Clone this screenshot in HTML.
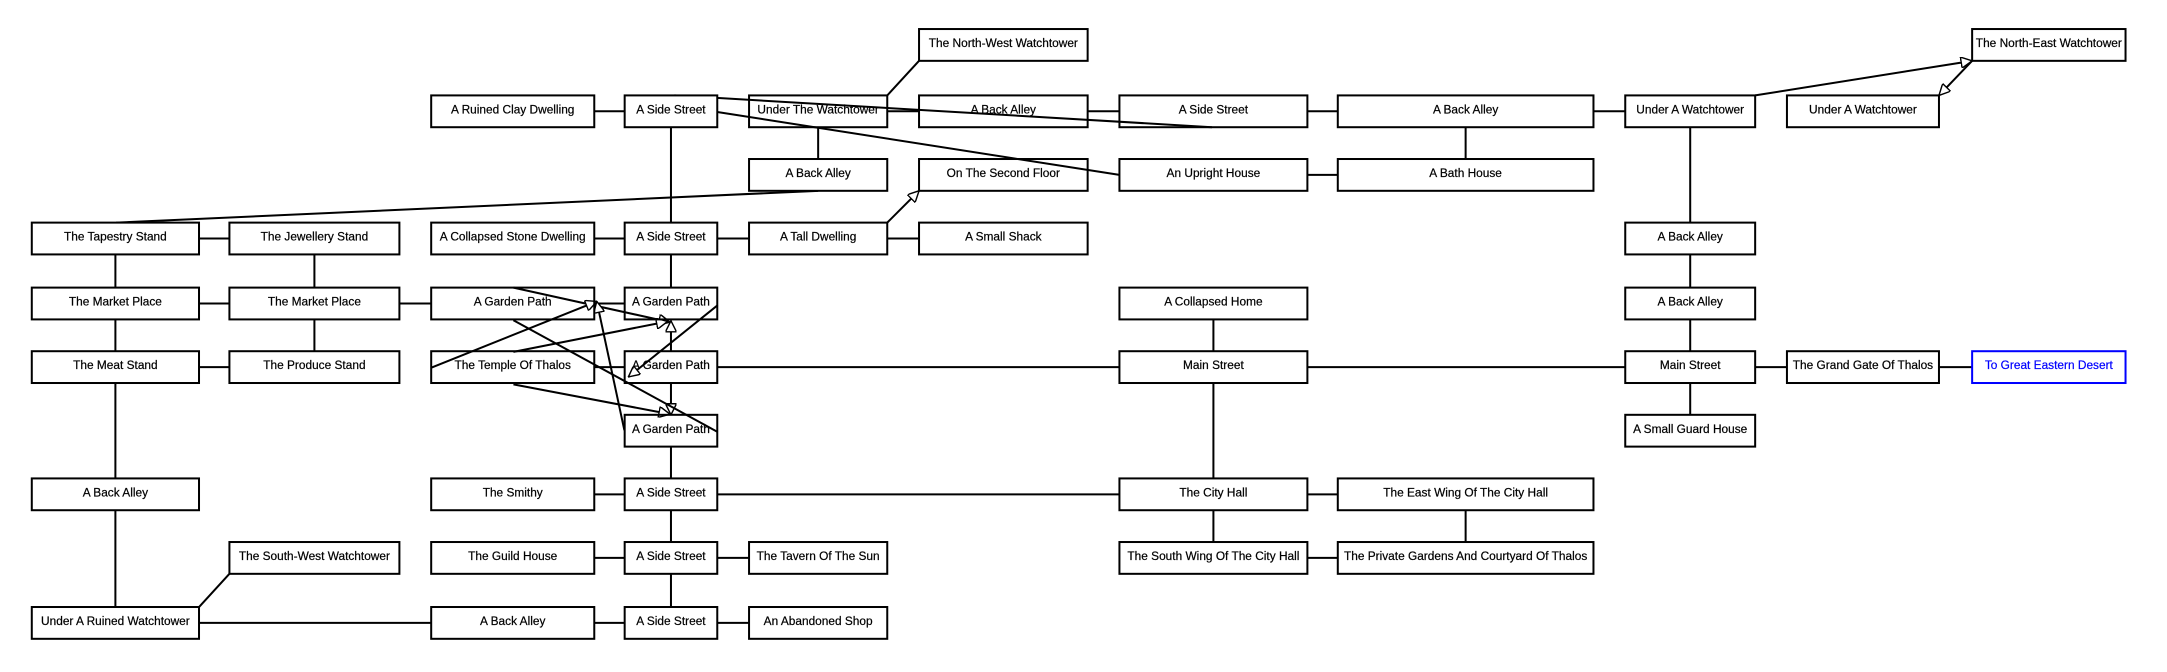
<!DOCTYPE html>
<html><head><meta charset="utf-8"><style>
html,body{margin:0;padding:0;background:#fff;}
svg{display:block;}
text{font-family:"Liberation Sans",sans-serif;font-size:8.6px;text-anchor:middle;fill:#000;stroke:#000;stroke-width:0.15px;}
</style></head><body>
<svg width="2167" height="672" viewBox="0 0 1568 486" preserveAspectRatio="none" xmlns="http://www.w3.org/2000/svg">
<defs>
<marker id="a" viewBox="0 0 10 10" refX="10" refY="5" markerWidth="9" markerHeight="8" markerUnits="userSpaceOnUse" orient="auto">
<path d="M0,0 L10,5 L0,10 Z" fill="#fff" stroke="#000" stroke-width="1.3"/>
</marker>
</defs>
<g stroke="#000" stroke-width="1.45" fill="none">
<line x1="430" y1="80.5" x2="452" y2="80.5"/>
<line x1="642" y1="80.5" x2="665" y2="80.5"/>
<line x1="787" y1="80.5" x2="810" y2="80.5"/>
<line x1="946" y1="80.5" x2="968" y2="80.5"/>
<line x1="1153" y1="80.5" x2="1176" y2="80.5"/>
<line x1="946" y1="126.5" x2="968" y2="126.5"/>
<line x1="144" y1="172.5" x2="166" y2="172.5"/>
<line x1="430" y1="172.5" x2="452" y2="172.5"/>
<line x1="519" y1="172.5" x2="542" y2="172.5"/>
<line x1="642" y1="172.5" x2="665" y2="172.5"/>
<line x1="144" y1="219.5" x2="166" y2="219.5"/>
<line x1="289" y1="219.5" x2="312" y2="219.5"/>
<line x1="430" y1="219.5" x2="452" y2="219.5"/>
<line x1="144" y1="265.5" x2="166" y2="265.5"/>
<line x1="430" y1="265.5" x2="452" y2="265.5"/>
<line x1="519" y1="265.5" x2="810" y2="265.5"/>
<line x1="946" y1="265.5" x2="1176" y2="265.5"/>
<line x1="1270" y1="265.5" x2="1293" y2="265.5"/>
<line x1="1403" y1="265.5" x2="1427" y2="265.5"/>
<line x1="430" y1="357.5" x2="452" y2="357.5"/>
<line x1="519" y1="357.5" x2="810" y2="357.5"/>
<line x1="946" y1="357.5" x2="968" y2="357.5"/>
<line x1="430" y1="403.5" x2="452" y2="403.5"/>
<line x1="519" y1="403.5" x2="542" y2="403.5"/>
<line x1="946" y1="403.5" x2="968" y2="403.5"/>
<line x1="144" y1="450.5" x2="312" y2="450.5"/>
<line x1="430" y1="450.5" x2="452" y2="450.5"/>
<line x1="519" y1="450.5" x2="542" y2="450.5"/>
<line x1="83.5" y1="184" x2="83.5" y2="208"/>
<line x1="83.5" y1="231" x2="83.5" y2="254"/>
<line x1="83.5" y1="277" x2="83.5" y2="346"/>
<line x1="83.5" y1="369" x2="83.5" y2="439"/>
<line x1="227.5" y1="184" x2="227.5" y2="208"/>
<line x1="227.5" y1="231" x2="227.5" y2="254"/>
<line x1="485.5" y1="92" x2="485.5" y2="161"/>
<line x1="485.5" y1="184" x2="485.5" y2="208"/>
<line x1="485.5" y1="254" x2="485.5" y2="232" marker-end="url(#a)"/>
<line x1="485.5" y1="277" x2="485.5" y2="300" marker-end="url(#a)"/>
<line x1="485.5" y1="323" x2="485.5" y2="346"/>
<line x1="485.5" y1="369" x2="485.5" y2="392"/>
<line x1="485.5" y1="415" x2="485.5" y2="439"/>
<line x1="592" y1="92" x2="592" y2="115"/>
<line x1="878" y1="231" x2="878" y2="254"/>
<line x1="878" y1="277" x2="878" y2="346"/>
<line x1="878" y1="369" x2="878" y2="392"/>
<line x1="1060.5" y1="92" x2="1060.5" y2="115"/>
<line x1="1060.5" y1="369" x2="1060.5" y2="392"/>
<line x1="1223" y1="92" x2="1223" y2="161"/>
<line x1="1223" y1="184" x2="1223" y2="208"/>
<line x1="1223" y1="231" x2="1223" y2="254"/>
<line x1="1223" y1="277" x2="1223" y2="300"/>
<line x1="144" y1="439" x2="166" y2="415"/>
<line x1="642" y1="69" x2="665" y2="44"/>
<line x1="642" y1="161" x2="665" y2="138" marker-end="url(#a)"/>
<line x1="488" y1="69" x2="877" y2="92"/>
<line x1="519" y1="81" x2="810" y2="126.5"/>
<line x1="592" y1="138" x2="84" y2="161"/>
<line x1="1270" y1="69" x2="1427" y2="44" marker-end="url(#a)"/>
<line x1="1427" y1="44" x2="1403" y2="69" marker-end="url(#a)"/>
<line x1="371.5" y1="208" x2="484.8" y2="233" marker-end="url(#a)"/>
<line x1="312.3" y1="265.8" x2="431.8" y2="218" marker-end="url(#a)"/>
<line x1="371.5" y1="254.5" x2="483" y2="232.5" marker-end="url(#a)"/>
<line x1="371.5" y1="278" x2="484.8" y2="299.5" marker-end="url(#a)"/>
<line x1="371.5" y1="231.6" x2="519.3" y2="312.4"/>
<line x1="519.3" y1="220.7" x2="454.7" y2="272.6" marker-end="url(#a)"/>
<line x1="451.8" y1="311.2" x2="431.8" y2="218" marker-end="url(#a)"/>
</g>
<g stroke="#000" stroke-width="1.45" fill="#fff">
<rect x="665" y="21" width="122" height="23"/>
<rect x="1427" y="21" width="111" height="23"/>
<rect x="312" y="69" width="118" height="23"/>
<rect x="452" y="69" width="67" height="23"/>
<rect x="542" y="69" width="100" height="23" fill="none"/>
<rect x="665" y="69" width="122" height="23" fill="none"/>
<rect x="810" y="69" width="136" height="23" fill="none"/>
<rect x="968" y="69" width="185" height="23"/>
<rect x="1176" y="69" width="94" height="23"/>
<rect x="1293" y="69" width="110" height="23"/>
<rect x="542" y="115" width="100" height="23"/>
<rect x="665" y="115" width="122" height="23" fill="none"/>
<rect x="810" y="115" width="136" height="23"/>
<rect x="968" y="115" width="185" height="23"/>
<rect x="23" y="161" width="121" height="23"/>
<rect x="166" y="161" width="123" height="23"/>
<rect x="312" y="161" width="118" height="23"/>
<rect x="452" y="161" width="67" height="23"/>
<rect x="542" y="161" width="100" height="23"/>
<rect x="665" y="161" width="122" height="23"/>
<rect x="1176" y="161" width="94" height="23"/>
<rect x="23" y="208" width="121" height="23"/>
<rect x="166" y="208" width="123" height="23"/>
<rect x="312" y="208" width="118" height="23" fill="none"/>
<rect x="452" y="208" width="67" height="23" fill="none"/>
<rect x="810" y="208" width="136" height="23"/>
<rect x="1176" y="208" width="94" height="23"/>
<rect x="23" y="254" width="121" height="23"/>
<rect x="166" y="254" width="123" height="23"/>
<rect x="312" y="254" width="118" height="23" fill="none"/>
<rect x="452" y="254" width="67" height="23" fill="none"/>
<rect x="810" y="254" width="136" height="23"/>
<rect x="1176" y="254" width="94" height="23"/>
<rect x="1293" y="254" width="110" height="23"/>
<rect x="1427" y="254" width="111" height="23" stroke="#00f"/>
<rect x="452" y="300" width="67" height="23" fill="none"/>
<rect x="1176" y="300" width="94" height="23"/>
<rect x="23" y="346" width="121" height="23"/>
<rect x="312" y="346" width="118" height="23"/>
<rect x="452" y="346" width="67" height="23"/>
<rect x="810" y="346" width="136" height="23"/>
<rect x="968" y="346" width="185" height="23"/>
<rect x="166" y="392" width="123" height="23"/>
<rect x="312" y="392" width="118" height="23"/>
<rect x="452" y="392" width="67" height="23"/>
<rect x="542" y="392" width="100" height="23"/>
<rect x="810" y="392" width="136" height="23"/>
<rect x="968" y="392" width="185" height="23"/>
<rect x="23" y="439" width="121" height="23"/>
<rect x="312" y="439" width="118" height="23"/>
<rect x="452" y="439" width="67" height="23"/>
<rect x="542" y="439" width="100" height="23"/>
</g>
<g>
<text x="726" y="34">The North-West Watchtower</text>
<text x="1482.5" y="34">The North-East Watchtower</text>
<text x="371" y="82">A Ruined Clay Dwelling</text>
<text x="485.5" y="82">A Side Street</text>
<text x="592" y="82">Under The Watchtower</text>
<text x="726" y="82">A Back Alley</text>
<text x="878" y="82">A Side Street</text>
<text x="1060.5" y="82">A Back Alley</text>
<text x="1223" y="82">Under A Watchtower</text>
<text x="1348" y="82">Under A Watchtower</text>
<text x="592" y="128">A Back Alley</text>
<text x="726" y="128">On The Second Floor</text>
<text x="878" y="128">An Upright House</text>
<text x="1060.5" y="128">A Bath House</text>
<text x="83.5" y="174">The Tapestry Stand</text>
<text x="227.5" y="174">The Jewellery Stand</text>
<text x="371" y="174">A Collapsed Stone Dwelling</text>
<text x="485.5" y="174">A Side Street</text>
<text x="592" y="174">A Tall Dwelling</text>
<text x="726" y="174">A Small Shack</text>
<text x="1223" y="174">A Back Alley</text>
<text x="83.5" y="221">The Market Place</text>
<text x="227.5" y="221">The Market Place</text>
<text x="371" y="221">A Garden Path</text>
<text x="485.5" y="221">A Garden Path</text>
<text x="878" y="221">A Collapsed Home</text>
<text x="1223" y="221">A Back Alley</text>
<text x="83.5" y="267">The Meat Stand</text>
<text x="227.5" y="267">The Produce Stand</text>
<text x="371" y="267">The Temple Of Thalos</text>
<text x="485.5" y="267">A Garden Path</text>
<text x="878" y="267">Main Street</text>
<text x="1223" y="267">Main Street</text>
<text x="1348" y="267">The Grand Gate Of Thalos</text>
<text x="1482.5" y="267" style="fill:#00f;stroke:#00f">To Great Eastern Desert</text>
<text x="485.5" y="313">A Garden Path</text>
<text x="1223" y="313">A Small Guard House</text>
<text x="83.5" y="359">A Back Alley</text>
<text x="371" y="359">The Smithy</text>
<text x="485.5" y="359">A Side Street</text>
<text x="878" y="359">The City Hall</text>
<text x="1060.5" y="359">The East Wing Of The City Hall</text>
<text x="227.5" y="405">The South-West Watchtower</text>
<text x="371" y="405">The Guild House</text>
<text x="485.5" y="405">A Side Street</text>
<text x="592" y="405">The Tavern Of The Sun</text>
<text x="878" y="405">The South Wing Of The City Hall</text>
<text x="1060.5" y="405">The Private Gardens And Courtyard Of Thalos</text>
<text x="83.5" y="452">Under A Ruined Watchtower</text>
<text x="371" y="452">A Back Alley</text>
<text x="485.5" y="452">A Side Street</text>
<text x="592" y="452">An Abandoned Shop</text>
</g>
</svg>
</body></html>
